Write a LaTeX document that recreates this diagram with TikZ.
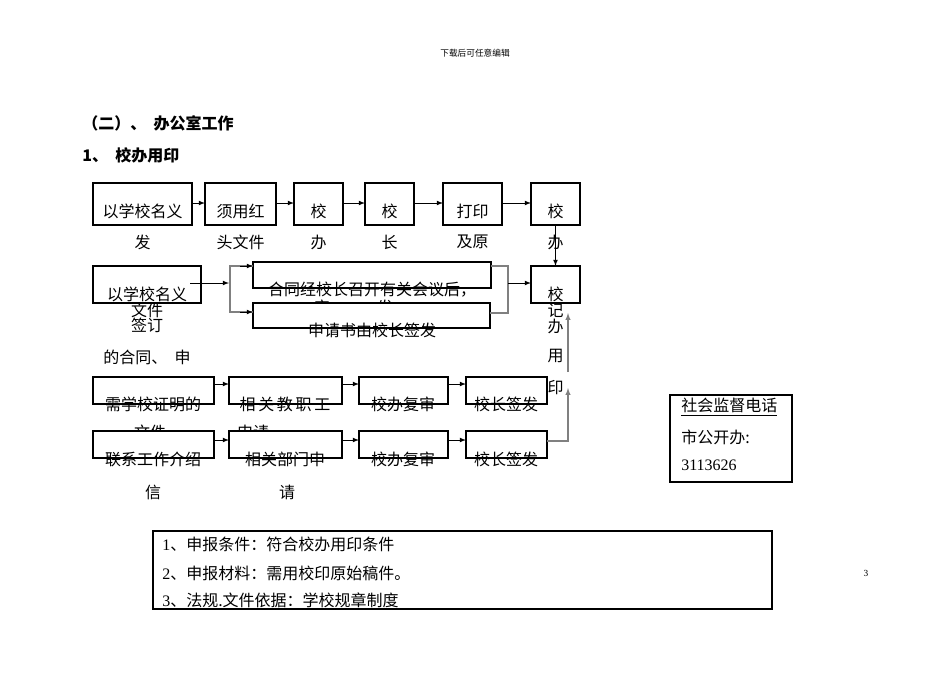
\documentclass[tikz,border=0pt]{standalone}
\usepackage{fontspec}
\setmainfont{Liberation Serif}
\newfontfamily\cjk{Noto Sans CJK SC}
\begin{document}
\begin{tikzpicture}[x=0.75pt,y=-0.75pt,
 bx/.style={draw,fill=white,line width=1.2pt},
 tbx/.style={draw,fill=white,line width=1.8pt},
 tx/.style={font=\cjk\fontsize{12}{14}\selectfont,inner sep=0pt},
 ar/.style={-latex,line width=0.6pt},
 gl/.style={draw=gray,line width=0.8pt}]
\useasboundingbox (0,0) rectangle (950,672);
\node[font=\cjk\fontsize{6.5}{8}\selectfont] (hd) at (475,53) {下载后可任意编辑};
\node[tx,anchor=west,font=\cjk\bfseries\fontsize{12}{14}\selectfont] (h1) at (82,123) {（二）、\ \ 办公室工作};
\node[tx,anchor=west,font=\cjk\bfseries\fontsize{12}{14}\selectfont] (h2) at (82,155) {1、\ \ 校办用印};
\node[font=\fontsize{7}{8}\selectfont] (pg) at (866,573) {3};
% row 1
\draw[bx] (93,183) rectangle (192,225) coordinate (r1a);
\draw[bx] (205,183) rectangle (276,225);
\draw[bx] (294,183) rectangle (343,225);
\draw[bx] (365,183) rectangle (414,225);
\draw[bx] (443,183) rectangle (502,225);
\draw[bx] (531,183) rectangle (580,225);
\foreach \x/\a/\b in {142.5/以学校名义/发,240.5/须用红/头文件,318.5/校/办,389.5/校/长,472.5/打印/及原,555.5/校/办}{
 \node[tx] at (\x,211) {\a}; \node[tx] at (\x,242) {\b};}
\coordinate (p1) at (192,203); \coordinate (p2) at (205,203);
\draw[ar] (192,203) -- (205,203);
\draw[ar] (276,203) -- (294,203);
\draw[ar] (343,203) -- (365,203);
\draw[ar] (414,203) -- (443,203);
\draw[ar] (502,203) -- (531,203);
\draw[ar] (555.5,225) -- (555.5,266);
% row 2
\draw[bx] (93,266) rectangle (201,303);
\node[tx] at (147,310) {文件};
\draw[bx] (93,266) rectangle (201,303);
\node[tx] at (147,294) {以学校名义};
\node[tx] at (147,325) {签订};
\node[tx] at (147,357) {的合同、\ \ 申};
\node[tx] at (322,307) {审};
\node[tx] at (385,307) {发};
\draw[tbx] (253,262) rectangle (491,288);
\node[tx] at (372,290) {合同经校长召开有关会议后，};
\draw[bx] (253,303) rectangle (490,328);
\node[tx] at (372,330) {申请书由校长签发};
\draw[ar] (190,283) -- (229,283);
\draw[gl] (253,266) -- (230,266) -- (230,312) -- (253,312);
\draw[ar] (240,266) -- (253,266);
\draw[ar] (240,312) -- (253,312);
\draw[gl] (491,266) -- (508,266) -- (508,313) -- (490,313);
\draw[ar] (508,283) -- (531,283);
\draw[bx] (531,266) rectangle (580,303);
\node[tx] at (555.5,310) {记};
\draw[bx] (531,266) rectangle (580,303);
\node[tx] at (555.5,294) {校};
\node[tx] at (555.5,326) {办};
\node[tx] at (555.5,356) {用};
\node[tx] at (555.5,388) {印};
% row 3
\foreach \l/\r in {93/214,229/342,359/448,466/547}{\draw[bx] (\l,377) rectangle (\r,404);}
\draw[ar] (214,384) -- (229,384);
\draw[ar] (342,384) -- (359,384);
\draw[ar] (448,384) -- (466,384);
\node[tx] at (153,404) {需学校证明的};
\node[tx] at (285,404) {相\,关\,教\,职\,工};
\node[tx] at (403,404) {校办复审};
\node[tx] at (506,404) {校长签发};
\node[tx] at (150,432) {文件};
\node[tx] at (253,432) {申请};
% row 4
\foreach \l/\r in {93/214,229/342,359/448,466/547}{\draw[bx] (\l,431) rectangle (\r,458);}
\draw[ar] (214,440) -- (229,440);
\draw[ar] (342,440) -- (359,440);
\draw[ar] (448,440) -- (466,440);
\node[tx] at (153,459) {联系工作介绍};
\node[tx] at (285,459) {相关部门申};
\node[tx] at (403,459) {校办复审};
\node[tx] at (506,459) {校长签发};
\node[tx] at (153,492) {信};
\node[tx] at (287,492) {请};
\draw[gl,-latex] (547,441) -- (568,441) -- (568,388);
\draw[gl,-latex] (568,372) -- (568,313);
% side box
\draw[tbx] (670,395) rectangle (792,482);
\node[tx,anchor=west] at (681,407) {\underline{社会监督电话}};
\node[tx,anchor=west] at (681,437) {市公开办:};
\node[anchor=west,inner sep=0pt,font=\fontsize{12}{14}\selectfont] at (681,465) {3113626};
% bottom box
\draw[line width=0.8pt] (153,531) rectangle (772,609);
\node[tx,anchor=west] at (162,544) {{\rmfamily 1}、申报条件：符合校办用印条件};
\node[tx,anchor=west] at (162,573) {{\rmfamily 2}、申报材料：需用校印原始稿件。};
\node[tx,anchor=west] at (162,600) {{\rmfamily 3}、法规.文件依据：学校规章制度};
\end{tikzpicture}
\end{document}
